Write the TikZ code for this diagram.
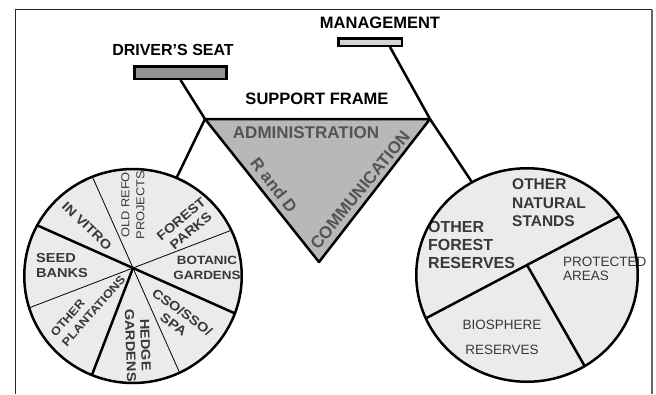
\documentclass[tikz,border=0pt]{standalone}
\usepackage{fontspec}
\setmainfont{Liberation Sans}
\newfontfamily\wheelfont[FakeStretch = 1.12]{Liberation Sans}
\definecolor{wheelfill}{gray}{0.92}
\definecolor{framefill}{gray}{0.72}
\definecolor{seatfill}{gray}{0.58}
\definecolor{barfill}{gray}{0.83}
\definecolor{labelgray}{gray}{0.22}
\definecolor{framegray}{gray}{0.33}

\begin{document}
\begin{tikzpicture}[x = 1pt, y = -1pt,
	thick line/.style = {line width = 2.5pt},
	thin line/.style = {line width = 0.8pt},
	heading/.style = {inner sep = 0pt, font = \fontsize{16}{18}\selectfont\bfseries},
	part/.style = {inner sep = 0pt, text = framegray, font = \fontsize{17}{18}\selectfont\bfseries},
	sector/.style = {inner sep = 0pt, align = center, text = labelgray, font = \wheelfont\bfseries\fontsize{13}{15}\selectfont},
	stand/.style = {inner sep = 0pt, align = left, anchor = west, text = labelgray, font = \fontsize{15.5}{18.5}\selectfont\bfseries},
	reserve/.style = {inner sep = 0pt, text = labelgray, font = \fontsize{13.5}{14}\selectfont}]
	\useasboundingbox (0,0) rectangle (656,394);
	\draw [line width = 0.8pt, color = black!85] (15,394) -- (15,9.5) -- (652,9.5);
	\draw [line width = 1.5pt, color = black!60] (652,9.5) -- (652,394);

	\coordinate (tl) at (205,119);
	\coordinate (tr) at (430,119);
	\coordinate (bot) at (319,262);
	\coordinate (lcen) at (133,276);
	\coordinate (lhub) at (133,268);
	\coordinate (rcen) at (527,275);
	\coordinate (rhub) at (527,265);

	\node (seat) at (180.5,72.5) [draw, thick line, fill = seatfill, minimum width = 92pt, minimum height = 12.5pt, inner sep = 0pt] {};
	\node (mgmt) at (370,42) [draw, thick line, fill = barfill, minimum width = 63.5pt, minimum height = 7.5pt, inner sep = 0pt] {};
	\node (seattext) at (173,50) [heading] {DRIVER'S SEAT};
	\node (mgmttext) at (380,23) [heading, font = \fontsize{16.5}{18}\selectfont\bfseries] {MANAGEMENT};
	\node (frametext) at (317,99) [heading, font = \fontsize{16.5}{18}\selectfont\bfseries] {SUPPORT FRAME};

	\draw [thick line] (seat.south) -- (tl);
	\draw [thick line] ([xshift = 20pt]mgmt.south) -- (tr);
	\draw [thick line] (tl) -- (lhub);
	\draw [thick line] (tr) -- (rhub);
	\draw [thick line, fill = framefill, line join = round] (tl) -- (tr) -- (bot) -- cycle;
	\node (admin) at (306,133) [part] {ADMINISTRATION};
	\node (rand) at (274,185) [part, rotate = -52] {R and D};
	\node (comm) at (360,190) [part, rotate = 51] {COMMUNICATION};

	\fill [wheelfill] (lcen) ellipse [x radius = 108.75pt, y radius = 107pt];
	\fill [wheelfill] (rcen) ellipse [x radius = 110.75pt, y radius = 106.75pt];
	\begin{scope}
		\clip (lcen) ellipse [x radius = 108.75pt, y radius = 107pt];
		\foreach \t in {21, 114}
		\draw [thin line] (lhub) ++(\t:250pt) -- ++(\t+180:500pt);
		\draw [thick line] (lhub) ++(156:250pt) -- ++(336:500pt);
		\draw [thick line] (lhub) -- ++(249:250pt);
	\end{scope}
	\begin{scope}
		\clip (rcen) ellipse [x radius = 110.75pt, y radius = 106.75pt];
		\draw [thick line] (rhub) ++(207.8:250pt) -- ++(27.8:500pt);
		\draw [thick line] (rhub) -- ++(-60.3:250pt);
	\end{scope}

	\node (invitro) at (87,226) [sector, rotate = -44] {IN VITRO};
	\node (oldrefo) at (133,205) [sector, rotate = 90, font = \wheelfont\fontsize{11.5}{15}\selectfont] {OLD REFO\\PROJECTS};
	\node (forest) at (186,225) [sector, rotate = 40] {FOREST\\PARKS};
	\node (seed) at (36,266) [sector, align = left, anchor = west] {SEED\\BANKS};
	\node (botanic) at (207,268) [sector, font = \wheelfont\bfseries\fontsize{12}{15}\selectfont] {BOTANIC\\GARDENS};
	\node (cso) at (178,318) [sector, rotate = -36] {CSO/SSO/\\SPA};
	\node (hedge) at (138,345) [sector, rotate = -88] {HEDGE\\GARDENS};
	\node (plant) at (88,306) [sector, align = left, rotate = 49, font = \wheelfont\bfseries\fontsize{11.5}{15}\selectfont] {OTHER\\PLANTATIONS};

	\node (natural) at (512,203) [stand] {OTHER\\NATURAL\\STANDS};
	\node (reserves) at (428,245) [stand, font = \fontsize{16}{18}\selectfont\bfseries] {OTHER\\FOREST\\RESERVES};
	\node (protected) at (563,269) [reserve, align = left, anchor = west] {PROTECTED\\AREAS};
	\node (biosphere) at (502,337) [reserve, align = center, font = \fontsize{13.5}{25}\selectfont] {BIOSPHERE\\RESERVES};

	\draw [thick line] (lcen) ellipse [x radius = 108.75pt, y radius = 107pt];
	\draw [thick line] (rcen) ellipse [x radius = 110.75pt, y radius = 106.75pt];
\end{tikzpicture}
\end{document}
